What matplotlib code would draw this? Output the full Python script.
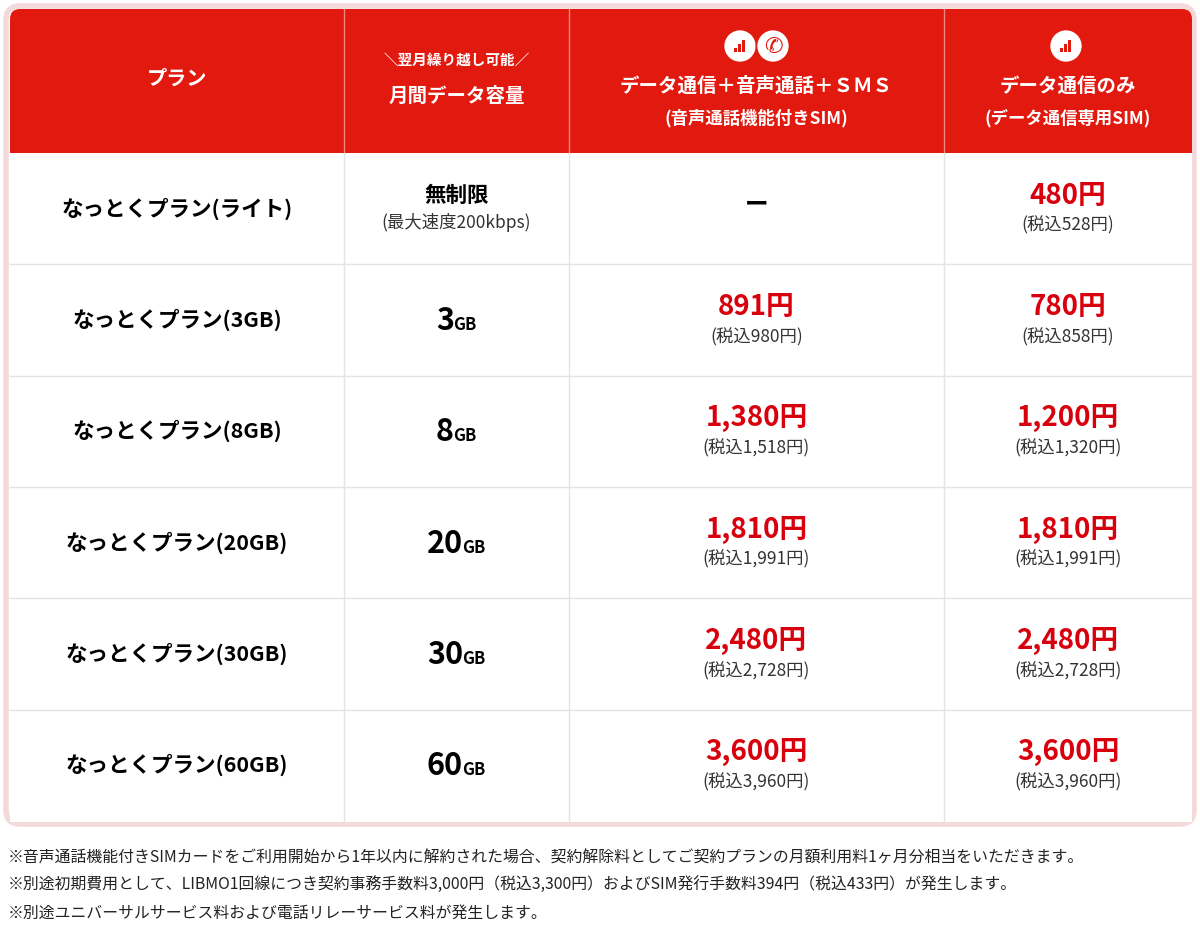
import matplotlib.pyplot as plt
from matplotlib.patches import FancyBboxPatch, Rectangle, Circle

plt.rcParams["font.family"] = "Noto Sans CJK JP"

# data
plans = ["なっとくプラン(ライト)", "なっとくプラン(3GB)", "なっとくプラン(8GB)",
         "なっとくプラン(20GB)", "なっとくプラン(30GB)", "なっとくプラン(60GB)"]
capacity = ["無制限", "3", "8", "20", "30", "60"]
voice_price = [None, "891円", "1,380円", "1,810円", "2,480円", "3,600円"]
voice_tax = [None, "(税込980円)", "(税込1,518円)", "(税込1,991円)", "(税込2,728円)", "(税込3,960円)"]
data_price = ["480円", "780円", "1,200円", "1,810円", "2,480円", "3,600円"]
data_tax = ["(税込528円)", "(税込858円)", "(税込1,320円)", "(税込1,991円)", "(税込2,728円)", "(税込3,960円)"]
notes = [
    "※音声通話機能付きSIMカードをご利用開始から1年以内に解約された場合、契約解除料としてご契約プランの月額利用料1ヶ月分相当をいただきます。",
    "※別途初期費用として、LIBMO1回線につき契約事務手数料3,000円（税込3,300円）およびSIM発行手数料394円（税込433円）が発生します。",
    "※別途ユニバーサルサービス料および電話リレーサービス料が発生します。",
]

RED = "#E2190F"
PRICE = "#D8000C"
LINE = "#E4E4E4"
W, H = 1200, 932
cols = [10, 344, 569, 944, 1192]
header_bottom = 153
row_h = 111.3

fig = plt.figure(figsize=(12, 9.32), dpi=100)
ax = fig.add_axes([0, 0, 1, 1])
ax.set_xlim(0, W)
ax.set_ylim(H, 0)
ax.axis("off")

# outer frame
ax.add_patch(FancyBboxPatch((6, 6), 1188, 818, boxstyle="round,pad=0,rounding_size=14",
                            fc="white", ec="#F3D9D9", lw=4))
ax.add_patch(FancyBboxPatch((10, 9), 1182, 160, boxstyle="round,pad=0,rounding_size=10",
                            fc=RED, ec="none"))
ax.add_patch(Rectangle((10, 120), 1182, header_bottom - 120, fc=RED, ec="none"))
ax.add_patch(Rectangle((10, header_bottom), 1182, 669, fc="white", ec="none"))

for x in cols[1:-1]:
    ax.plot([x, x], [9, header_bottom], color="#EE8580", lw=1)
    ax.plot([x, x], [header_bottom, 821], color=LINE, lw=1)
for i in range(1, 6):
    y = header_bottom + i * row_h
    ax.plot([10, 1192], [y, y], color=LINE, lw=1)

cx = [(cols[i] + cols[i + 1]) / 2 for i in range(4)]


def icon(x, y, phone=False):
    ax.add_patch(Circle((x, y), 16.5, fc="white", ec=RED, lw=1.2))
    if phone:
        ax.text(x, y + 1, "✆", color=RED, ha="center", va="center", fontsize=16,
                fontfamily="DejaVu Sans", fontweight="bold")
    else:
        for k, hgt in enumerate([4, 8, 12]):
            ax.add_patch(Rectangle((x - 6 + k * 4, y + 6 - hgt), 2.6, hgt, fc=RED, ec="none"))


# header
wb = dict(color="white", ha="center", va="center", fontweight="bold")
ax.text(cx[0], 78, "プラン", fontsize=14.5, **wb)
ax.text(cx[1], 60, "＼翌月繰り越し可能／", fontsize=10.5, **wb)
ax.text(cx[1], 96, "月間データ容量", fontsize=14, **wb)
icon(740, 46)
icon(773, 46, phone=True)
ax.text(cx[2], 86, "データ通信＋音声通話＋ＳＭＳ", fontsize=14, **wb)
ax.text(cx[2], 118, "(音声通話機能付きSIM)", fontsize=12.5, **wb)
icon(1066, 46)
ax.text(cx[3], 86, "データ通信のみ", fontsize=14, **wb)
ax.text(cx[3], 118, "(データ通信専用SIM)", fontsize=12.5, **wb)

fig.canvas.draw()
renderer = fig.canvas.get_renderer()
inv = ax.transData.inverted()


def width_of(t):
    bb = t.get_window_extent(renderer)
    p0 = inv.transform((bb.x0, bb.y0))
    p1 = inv.transform((bb.x1, bb.y1))
    return p1[0] - p0[0]


for i in range(6):
    yc = header_bottom + (i + 0.5) * row_h
    ax.text(cx[0], yc, plans[i], fontsize=15.5, fontweight="bold", ha="center", va="center")
    if i == 0:
        ax.text(cx[1], yc - 13, capacity[i], fontsize=15.5, fontweight="bold", ha="center", va="center")
        ax.text(cx[1], yc + 14, "(最大速度200kbps)", fontsize=12.5, ha="center", va="center", color="#333333")
    else:
        big = ax.text(0, yc, capacity[i], fontsize=22, fontweight="bold", ha="left", va="baseline")
        small = ax.text(0, yc, "GB", fontsize=12, fontweight="bold", ha="left", va="baseline")
        w1, w2 = width_of(big), width_of(small)
        x0 = cx[1] - (w1 + w2) / 2
        big.set_position((x0, yc + 10))
        small.set_position((x0 + w1 - 1, yc + 10))
    if voice_price[i] is None:
        ax.text(cx[2], yc - 4, "ー", fontsize=17, fontweight="bold", ha="center", va="center")
    else:
        ax.text(cx[2], yc - 13, voice_price[i], fontsize=20, fontweight="bold", ha="center",
                va="center", color=PRICE)
        ax.text(cx[2], yc + 17, voice_tax[i], fontsize=12.5, ha="center", va="center", color="#333333")
    ax.text(cx[3], yc - 13, data_price[i], fontsize=20, fontweight="bold", ha="center",
            va="center", color=PRICE)
    ax.text(cx[3], yc + 17, data_tax[i], fontsize=12.5, ha="center", va="center", color="#333333")

for k, n in enumerate(notes):
    ax.text(8, 858 + k * 27.5, n, fontsize=11.4, ha="left", va="center", color="#222222")

fig.savefig("out.png", dpi=100)
